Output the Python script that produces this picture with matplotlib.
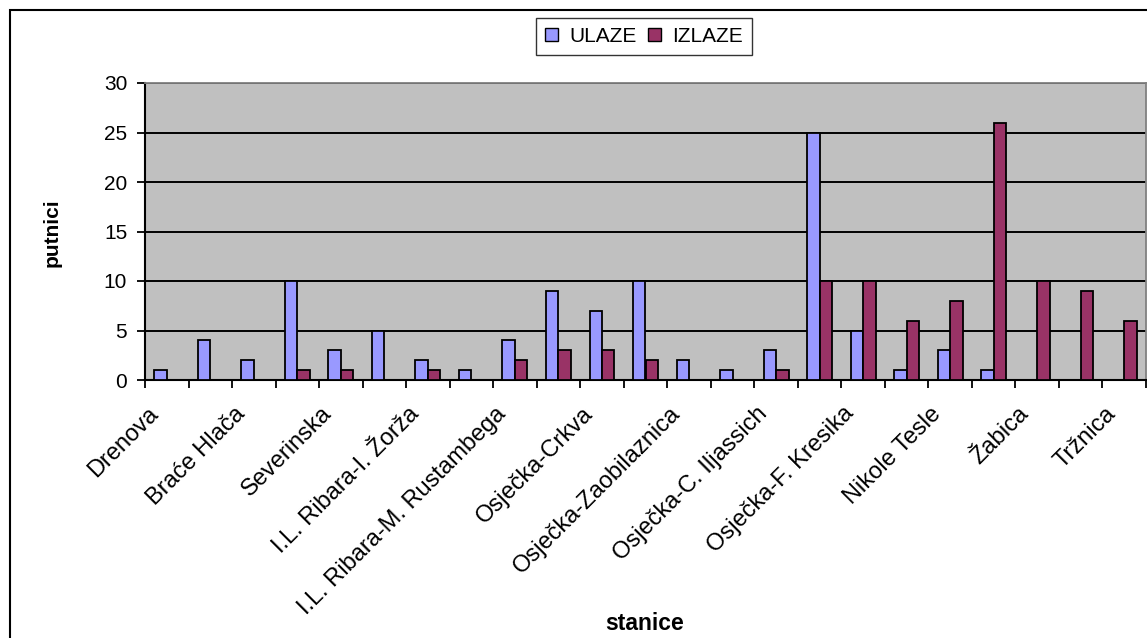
import numpy as np
import matplotlib
matplotlib.use('Agg')
import matplotlib.pyplot as plt
import matplotlib.transforms as mtransforms
from matplotlib.patches import Rectangle, Patch

plt.rcParams['font.family'] = ['Liberation Sans', 'DejaVu Sans']

stanice = ['Drenova', '', 'Braće Hlača', '', 'Severinska', '',
           'I.L. Ribara-I. Žorža', '', 'I.L. Ribara-M. Rustambega', '',
           'Osječka-Crkva', '', 'Osječka-Zaobilaznica', '',
           'Osječka-C. Iljassich', '', 'Osječka-F. Kresika', '',
           'Nikole Tesle', '', 'Žabica', '', 'Tržnica']
ulaze = [1, 4, 2, 10, 3, 5, 2, 1, 4, 9, 7, 10, 2, 1, 3, 25, 5, 1, 3, 1, 0, 0, 0]
izlaze = [0, 0, 0, 1, 1, 0, 1, 0, 2, 3, 3, 2, 0, 0, 1, 10, 10, 6, 8, 26, 10, 9, 6]
yticks = [0, 5, 10, 15, 20, 25, 30]

W, H = 1147, 638
fig = plt.figure(figsize=(W/100, H/100), dpi=100)
ax = fig.add_axes([145/W, 1-380/H, 1001/W, 297/H])
ax.set_facecolor('#C0C0C0')

x = np.arange(len(stanice))
bw = 0.286
ax.bar(x - bw/2, ulaze, bw, color='#9999FF', edgecolor='black', linewidth=1.3, zorder=3)
ax.bar(x + bw/2, izlaze, bw, color='#993366', edgecolor='black', linewidth=1.3, zorder=3)

ax.set_xlim(-0.5, len(stanice) - 0.5)
ax.set_ylim(0, 30)
ax.set_yticks(yticks)
ax.yaxis.grid(True, color='black', linewidth=1.4, zorder=1)
ax.set_axisbelow(True)

ax.set_xticks(np.arange(-0.5, len(stanice), 1.0))
ax.set_xticklabels([])
ax.set_xticks(x[::2], minor=True)
ax.set_xticklabels(stanice[::2], minor=True, rotation=45, ha='right', va='baseline',
                   rotation_mode='anchor', fontsize=17)
ax.tick_params(axis='x', which='minor', length=0, pad=25)
ax.tick_params(axis='x', which='major', length=5.8, width=1.3, direction='out')
ax.tick_params(axis='y', length=5.8, width=1.3, labelsize=15, pad=7)
shift = mtransforms.ScaledTranslation(-8/100, 0, fig.dpi_scale_trans)
for lab in ax.get_xticklabels(minor=True):
    lab.set_transform(lab.get_transform() + shift)

for s in ['top', 'right']:
    ax.spines[s].set_color('#808080')
    ax.spines[s].set_linewidth(1.3)
for s in ['left', 'bottom']:
    ax.spines[s].set_color('black')
    ax.spines[s].set_linewidth(1.5)

fig.text(52/W, 1-233/H, 'putnici', rotation=90, ha='center', va='center',
         fontsize=15, fontweight='bold')
fig.text(645/W, 1-624/H, 'stanice', ha='center', va='center',
         fontsize=16.5, fontweight='bold')

# chart area border
fig.add_artist(Rectangle((10/W, -0.05), 1.2, 1-10/H+0.05, transform=fig.transFigure,
                         fill=False, edgecolor='black', linewidth=1.5))

handles = [Patch(facecolor='#9999FF', edgecolor='black', label='ULAZE'),
           Patch(facecolor='#993366', edgecolor='black', label='IZLAZE')]
leg = fig.legend(handles=handles, loc='center', bbox_to_anchor=(644/W, 1-36.5/H),
                 ncol=2, fontsize=15, frameon=True, fancybox=False, shadow=False,
                 handlelength=0.6, handleheight=0.6, handletextpad=0.55,
                 columnspacing=0.55, borderpad=0.45, borderaxespad=0)
leg.get_frame().set_edgecolor('black')
leg.get_frame().set_linewidth(1.0)

plt.savefig('out.png', dpi=100)
